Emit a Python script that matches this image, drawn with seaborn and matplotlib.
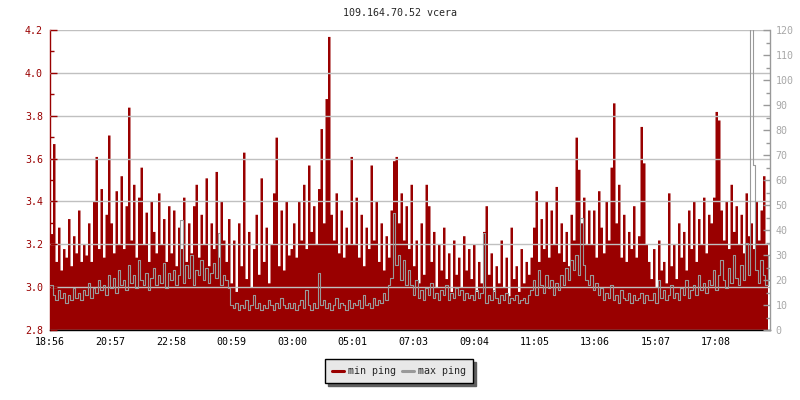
import numpy as np
import pandas as pd
import matplotlib
matplotlib.use("Agg")
import matplotlib.pyplot as plt
from matplotlib.lines import Line2D
from matplotlib.ticker import MultipleLocator
import seaborn as sns

title = "109.164.70.52 vcera"
start_time = "18:56"
step_min = 5
tick_labels = ["18:56", "20:57", "22:58", "00:59", "03:00", "05:01",
               "07:03", "09:04", "11:05", "13:06", "15:07", "17:08"]

# min ping (left axis), one row = ~2 hours
min_ping = [
    3.25, 3.67, 3.12, 3.28, 3.08, 3.18, 3.14, 3.32, 3.10, 3.24, 3.16, 3.36, 3.12, 3.20, 3.15, 3.30, 3.12, 3.40, 3.61, 3.18, 3.46, 3.14, 3.34, 3.71,
    3.30, 3.16, 3.45, 3.20, 3.52, 3.18, 3.38, 3.84, 3.22, 3.48, 3.14, 3.42, 3.56, 3.20, 3.35, 3.12, 3.40, 3.26, 3.16, 3.44, 3.20, 3.32, 3.12, 3.38,
    3.16, 3.36, 3.10, 3.28, 3.18, 3.42, 3.12, 3.30, 3.16, 3.38, 3.48, 3.14, 3.34, 3.20, 3.51, 3.10, 3.30, 3.18, 3.54, 3.14, 3.40, 3.22, 3.12, 3.32,
    3.02, 3.22, 2.98, 3.30, 3.10, 3.63, 3.04, 3.26, 3.00, 3.18, 3.34, 3.06, 3.51, 3.12, 3.28, 3.02, 3.20, 3.44, 3.70, 3.10, 3.36, 3.08, 3.40, 3.15,
    3.18, 3.30, 3.14, 3.40, 3.22, 3.48, 3.18, 3.57, 3.26, 3.38, 3.20, 3.46, 3.74, 3.30, 3.88, 4.17, 3.34, 3.22, 3.44, 3.16, 3.36, 3.14, 3.28, 3.20,
    3.61, 3.20, 3.42, 3.14, 3.34, 3.10, 3.28, 3.18, 3.57, 3.22, 3.40, 3.12, 3.30, 3.08, 3.24, 3.14, 3.36, 3.59, 3.61, 3.30, 3.44, 3.22, 3.38, 3.18,
    3.48, 3.10, 3.22, 3.02, 3.30, 3.06, 3.48, 3.38, 3.12, 3.26, 3.00, 3.20, 3.08, 3.28, 3.04, 3.16, 2.98, 3.22, 3.06, 3.14, 3.00, 3.24, 3.08, 3.18,
    3.04, 3.20, 2.98, 3.12, 3.02, 3.26, 3.38, 3.06, 3.16, 2.98, 3.10, 3.02, 3.22, 3.00, 3.14, 2.96, 3.28, 3.04, 3.10, 2.98, 3.18, 3.02, 3.12, 3.06,
    3.14, 3.28, 3.45, 3.12, 3.32, 3.18, 3.40, 3.14, 3.36, 3.20, 3.47, 3.16, 3.30, 3.12, 3.26, 3.10, 3.34, 3.22, 3.70, 3.55, 3.30, 3.42, 3.20, 3.36,
    3.20, 3.36, 3.14, 3.45, 3.28, 3.16, 3.40, 3.22, 3.56, 3.86, 3.30, 3.48, 3.14, 3.34, 3.12, 3.26, 3.18, 3.38, 3.14, 3.24, 3.75, 3.58, 3.20, 3.12,
    3.04, 3.18, 3.00, 3.22, 3.08, 3.12, 3.02, 3.44, 3.10, 3.20, 3.04, 3.30, 3.14, 3.26, 3.08, 3.36, 3.18, 3.40, 3.12, 3.32, 3.20, 3.42, 3.16, 3.34,
    3.30, 3.42, 3.82, 3.78, 3.36, 3.22, 3.40, 3.18, 3.48, 3.26, 3.38, 3.20, 3.34, 3.16, 3.44, 3.24, 3.30, 3.18, 3.40, 3.22, 3.36, 3.52, 3.20, 3.34,
]

# max ping (right axis)
max_ping = [
    18, 14, 12, 16, 13, 15, 11, 14, 12, 17, 13, 15, 12, 16, 14, 19, 13, 17, 15, 20, 16, 18, 14, 22,
    17, 21, 15, 24, 18, 20, 16, 26, 19, 22, 17, 28, 20, 18, 23, 16, 21, 25, 18, 22, 19, 27, 17, 23,
    20, 24, 18, 22, 44, 19, 26, 21, 30, 18, 24, 22, 28, 20, 25, 19, 23, 27, 21, 39, 18, 22, 20, 17,
    10, 9, 11, 8, 10, 9, 12, 8, 10, 14, 9, 11, 8, 10, 9, 12, 10, 8, 11, 9, 13, 10, 9, 11,
    9, 11, 8, 10, 12, 9, 16, 10, 8, 11, 9, 23, 10, 12, 9, 11, 8, 10, 13, 9, 11, 10, 8, 12,
    9, 11, 10, 12, 9, 14, 10, 11, 9, 13, 10, 12, 11, 15, 12, 18, 21, 47, 26, 30, 20, 28, 18, 24,
    18, 14, 20, 13, 16, 12, 17, 14, 19, 13, 15, 12, 16, 14, 18, 12, 15, 13, 17, 14, 16, 12, 15, 13,
    14, 12, 16, 13, 15, 39, 11, 14, 12, 16, 13, 11, 14, 12, 15, 11, 13, 12, 14, 11, 12, 13, 11, 14,
    16, 20, 14, 24, 18, 15, 22, 17, 20, 14, 19, 16, 22, 18, 25, 20, 28, 24, 30, 22, 45, 26, 20, 18,
    22, 16, 19, 14, 17, 12, 15, 13, 18, 12, 14, 11, 16, 13, 12, 15, 11, 14, 12, 13, 15, 11, 14, 12,
    12, 15, 11, 20, 13, 16, 12, 14, 18, 13, 15, 12, 17, 14, 20, 13, 16, 18, 14, 22, 16, 19, 15, 20,
    18, 24, 16, 22, 28, 20, 17, 25, 19, 30, 21, 18, 26, 20, 35, 22, 130, 66, 24, 19, 28, 22, 18, 30,
]

red = "#990000"
grey = "#999999"

def to_min(t):
    h, m = map(int, t.split(":"))
    h0, m0 = map(int, start_time.split(":"))
    return (h * 60 + m - h0 * 60 - m0) % 1440

df = pd.DataFrame({"t": np.arange(len(min_ping)) * step_min,
                   "min_ping": min_ping, "max_ping": max_ping})

sns.set_style("white")
plt.rcParams["font.family"] = ["DejaVu Sans Mono"]
plt.rcParams["font.size"] = 7.2

fig = plt.figure(figsize=(8, 4), dpi=100)
ax = fig.add_axes([0.0625, 0.175, 0.9, 0.75])
ax2 = ax.twinx()

ax.fill_between(df["t"], 2.8, df["min_ping"], step="post", color=red, lw=0)
sns.lineplot(data=df, x="t", y="max_ping", ax=ax2, color=grey, lw=0.8,
             drawstyle="steps-post")

ax.set_xlim(0, 1440)
ax.set_ylim(2.8, 4.2)
ax2.set_ylim(0, 120)
ax.set_xlabel("")
ax.set_ylabel("")
ax2.set_xlabel("")
ax2.set_ylabel("")

ax.set_xticks([to_min(t) for t in tick_labels])
ax.set_xticklabels(tick_labels)
ax.yaxis.set_major_locator(MultipleLocator(0.2))
ax.yaxis.set_minor_locator(MultipleLocator(0.1))
ax.yaxis.set_major_formatter(matplotlib.ticker.FormatStrFormatter("%.1f"))
ax2.yaxis.set_major_locator(MultipleLocator(10))
ax2.yaxis.set_minor_locator(MultipleLocator(5))

ax.grid(axis="y", color="#c0c0c0", lw=1)
ax.set_axisbelow(False)

ax.tick_params(axis="x", direction="in", length=5, width=1, colors="black", pad=5)
ax.tick_params(axis="y", which="major", direction="in", length=5, width=1,
               color=red, labelcolor=red, pad=5)
ax.tick_params(axis="y", which="minor", direction="in", length=3, width=1, color=red)
ax2.tick_params(axis="y", which="major", direction="in", length=5, width=1,
                color=grey, labelcolor="#a8a8a8", pad=4)
ax2.tick_params(axis="y", which="minor", direction="in", length=3, width=1, color=grey)

for a in (ax, ax2):
    a.spines["top"].set_visible(False)
    a.spines["left"].set_color(red)
    a.spines["right"].set_color(grey)
    a.spines["bottom"].set_color("black")
    for s in a.spines.values():
        s.set_linewidth(1)
ax2.spines["left"].set_visible(False)
ax2.spines["bottom"].set_visible(False)
ax.spines["right"].set_visible(False)

fig.text(0.5, 1 - 13 / 400, title, ha="center", va="center", fontsize=7.2)

handles = [Line2D([], [], color=red, lw=2.2), Line2D([], [], color=grey, lw=2.2)]
leg = fig.legend(handles, ["min ping", "max ping"], loc="center",
                 bbox_to_anchor=(399 / 800, 1 - 371 / 400), ncol=2,
                 frameon=True, fancybox=False, facecolor="#e8e8e8",
                 edgecolor="black", framealpha=1, handlelength=1.2,
                 handletextpad=0.4, columnspacing=0.6, borderpad=0.7,
                 shadow={"color": "#606060", "alpha": 1})
leg.get_frame().set_linewidth(1)

fig.savefig("out.png", dpi=100)
